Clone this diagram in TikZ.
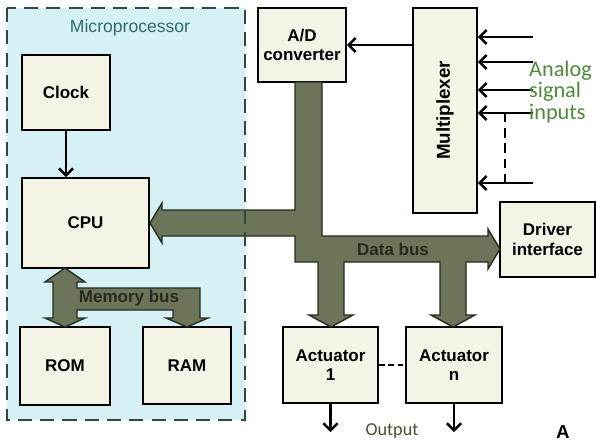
\documentclass[tikz,border=0pt]{standalone}
\usepackage{fontspec}
\setsansfont{Liberation Sans}
\newfontfamily\notefont{Carlito}
\usetikzlibrary{arrows.meta}
\definecolor{cpufill}{HTML}{D6F1F6}
\definecolor{boxfill}{HTML}{F3F4E6}
\definecolor{busfill}{HTML}{6C755A}
\definecolor{busline}{HTML}{262C1E}
\definecolor{microtext}{HTML}{2F6B6E}
\definecolor{analogtext}{HTML}{4E8A3A}
\definecolor{outtext}{HTML}{4A4C30}
\definecolor{dashline}{HTML}{2E4A3C}

\begin{document}
\begin{tikzpicture}[x=0.03cm, y=-0.03cm, >={Straight Barb[length=6pt,width=12pt]},
    blk/.style={draw, fill=boxfill, line width=1.5pt, align=center, inner sep=0pt,
        font=\sffamily\bfseries\fontsize{14.5}{16.5}\selectfont},
    bus/.style={draw=busline, fill=busfill, line width=1.2pt, line join=miter},
    buslbl/.style={font=\sffamily\bfseries\fontsize{14.5}{16.5}\selectfont, text=busline},
    sig/.style={line width=2.1pt}]
    \useasboundingbox (0,0) rectangle (597,444);
    \fill[cpufill] (7,8) rectangle (245,420);

    \node[font=\sffamily\fontsize{15}{17}\selectfont, text=microtext] (micro) at (130,28) {Microprocessor};
    \node[blk, minimum width=2.64cm, minimum height=2.25cm] (clock) at (66,92.5) {Clock};
    \node[blk, minimum width=3.81cm, minimum height=2.7cm] (cpu) at (85.5,223) {CPU};
    \node[blk, minimum width=2.7cm, minimum height=2.34cm] (rom) at (65,366) {ROM};
    \node[blk, minimum width=2.64cm, minimum height=2.31cm] (ram) at (187,365.5) {RAM};
    \node[blk, minimum width=2.64cm, minimum height=2.22cm] (adc) at (302,45) {A/D\\converter};
    \node[blk, minimum width=1.92cm, minimum height=6.15cm] (mux) at (445,110.5) {};
    \node[blk, draw=none, fill=none, rotate=90, font=\sffamily\bfseries\fontsize{16}{18}\selectfont]
        (muxlbl) at (mux) {Multiplexer};
    \node[blk, minimum width=2.85cm, minimum height=2.25cm] (drv) at (547.5,239.5) {Driver\\interface};
    \node[blk, minimum width=2.85cm, minimum height=2.28cm] (act1) at (330.5,365) {Actuator\\1};
    \node[blk, minimum width=2.88cm, minimum height=2.28cm] (actn) at (454,365) {Actuator\\n};

    \draw[bus] (295,82) -- (322,82) -- (322,236) -- (488,236) -- (488,229) -- (500,249)
        -- (488,269) -- (488,262) -- (466,262) -- (466,315) -- (475,315) -- (453,327)
        -- (431,315) -- (440,315) -- (440,262) -- (344,262) -- (344,315) -- (353,315)
        -- (331,327) -- (309,315) -- (318,315) -- (318,262) -- (295,262) -- (295,236)
        -- (162,236) -- (162,243) -- (150,223) -- (162,203) -- (162,210) -- (295,210) -- cycle;
    \draw[bus] (65,268) -- (85,282) -- (77,282) -- (77,288) -- (200,288) -- (200,318)
        -- (208,318) -- (187,327) -- (166,318) -- (173,318) -- (173,310) -- (77,310)
        -- (77,318) -- (85,318) -- (65,327) -- (45,318) -- (53,318) -- (53,282)
        -- (45,282) -- cycle;
    \node[buslbl] (databus) at (393,249) {Data bus};
    \node[buslbl] (membus) at (129,298) {Memory bus};

    \draw[dashline, line width=1.3pt, dash pattern=on 12pt off 7pt] (7,8) rectangle (245,420);

    \draw[sig, ->] (clock.south) -- (clock.south |- cpu.north);
    \draw[sig, ->] (mux.west |- adc.east) -- (adc.east);

    \coordinate (in1) at (533,37);
    \coordinate (in2) at (533,62);
    \coordinate (in3) at (533,90);
    \coordinate (in4) at (533,113);
    \coordinate (in5) at (533,183);
    \foreach \i in {1,...,5}
        \draw[sig, ->] (in\i) -- (in\i -| mux.east);
    \coordinate (t1) at (505,113);
    \coordinate (t2) at (505,183);
    \draw[sig, dash pattern=on 8pt off 5pt] (t1) -- (t2);
    \node[font=\notefont\fontsize{19}{18.5}\selectfont, text=analogtext, align=left, anchor=west,
        inner sep=0pt] (analog) at (529,92) {Analog\\signal\\inputs};

    \draw[line width=1.5pt, dash pattern=on 5pt off 3pt] (act1.east) -- (actn.west);
    \coordinate (out1) at (330.5,432);
    \coordinate (outn) at (454,432);
    \draw[sig, ->] (act1.south) -- (out1);
    \draw[sig, ->] (actn.south) -- (outn);
    \node[font=\notefont\fontsize{15.5}{17}\selectfont, text=outtext] (output) at (392,431) {Output};
    \node[font=\sffamily\bfseries\fontsize{16}{18}\selectfont] (fig) at (563,432) {A};
\end{tikzpicture}
\end{document}
